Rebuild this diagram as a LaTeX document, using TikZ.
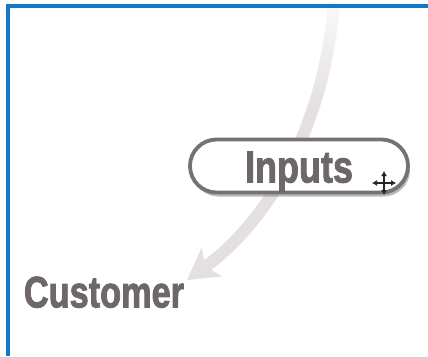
\documentclass[tikz,border=0pt]{standalone}
\usepackage{fontspec}
\setmainfont{Liberation Sans}
\newfontfamily\heavyfont[FakeBold=2.2]{Liberation Sans Bold}
\usetikzlibrary{arrows.meta,shadows,fadings,shapes.misc}
\definecolor{txt}{HTML}{6D6768}
\definecolor{flowc}{HTML}{E4E0DF}
\definecolor{frameblue}{HTML}{1479C4}
\definecolor{pillborder}{HTML}{777172}
\tikzset{
  biglabel/.style={text=txt, font=\fontsize{44}{44}\selectfont\heavyfont, inner sep=0pt, text depth=0pt},
  flow/.style={draw=flowc, line width=12pt, -{Stealth[length=30pt,width=34pt,inset=7pt]}},
  pill/.style={rounded rectangle, draw=pillborder, line width=3.8pt, fill=white,
    minimum width=218pt, minimum height=53pt, inner sep=0pt, text depth=0pt,
    drop shadow={opacity=0.55, shadow xshift=2pt, shadow yshift=-4pt}},
  cursorarrow/.style={draw=black!85, line width=1.3pt, {Latex[length=5pt,width=6pt]}-{Latex[length=5pt,width=6pt]}},
  frame/.style={draw=frameblue, line width=3.2pt}
}
\begin{document}
\begin{tikzpicture}[x=1pt,y=-1pt]
\useasboundingbox (0,0) rectangle (428,356);
\fill[white] (0,0) rectangle (428,356);
% flow arrow
\coordinate (start) at (334,2);
\node[biglabel] (cust) at (104,292) {\scalebox{0.78}[1]{Customer}};
\coordinate (tip) at (187,280);
\draw[flow] (start) .. controls (324,135) and (262,226) .. (tip);
% fade the top of the flow
\fill[white, path fading=south, fill opacity=0.85] (200,0) rectangle (428,110);
% Inputs pill
\node[pill, text=txt, font=\fontsize{45}{45}\selectfont\heavyfont] (inputs) at (299,166) {\raisebox{-2pt}{\scalebox{0.8}[1]{Inputs}}};
% move cursor
\coordinate (cur) at (384,183);
\fill[white] (cur) circle (6pt);
\draw[cursorarrow] ([yshift=-12pt]cur) -- ([yshift=12pt]cur);
\draw[cursorarrow] ([xshift=-12pt]cur) -- ([xshift=12pt]cur);
% frame
\draw[frame] (8,356) -- (8,6) -- (428,6);
\end{tikzpicture}
\end{document}
